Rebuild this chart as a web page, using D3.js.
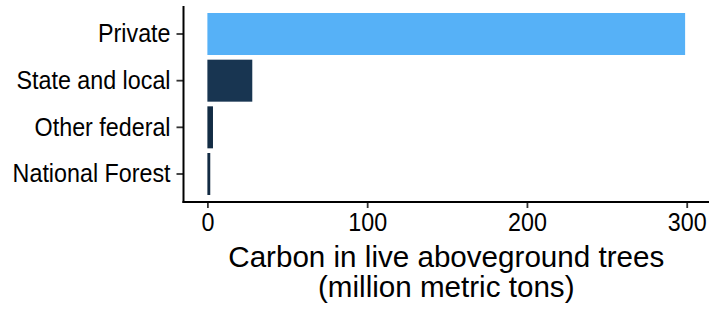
<!DOCTYPE html>
<html>
<head>
<meta charset="utf-8">
<script src="https://cdn.jsdelivr.net/npm/d3@7"></script>
<style>
  body { margin: 0; background: #fff; }
  text { font-family: "Liberation Sans", Arial, sans-serif; fill: #000; }
</style>
</head>
<body>
<script>
'use strict';

var categories = ["Private", "State and local", "Other federal", "National Forest"];
var carbon = [299, 28.1, 3.5, 1.8];
var xTicks = [0, 100, 200, 300];
var titleLines = ["Carbon in live aboveground trees", "(million metric tons)"];

var _width = 722;
var _height = 309;
var panel = {left: 183.5, right: 709, top: 6, bottom: 202};
var labelSize = 23.3;
var stretch = 1.08; // the reference text is a bit taller than wide

var data = categories.map(function(c, i) { return {name: c, value: carbon[i]}; });

var maxV = d3.max(carbon);
var pad = maxV * 0.05;

var _xScale = d3.scaleLinear()
    .domain([-pad, maxV + pad])
    .range([panel.left, panel.right]);

var _yScale = d3.scaleBand()
    .domain(categories)
    .range([panel.top, panel.bottom])
    .paddingInner(0.1)
    .paddingOuter(0.15);

var color = d3.scaleLinear()
    .domain(d3.extent(carbon))
    .range(["#132B43", "#56B1F7"])
    .interpolate(d3.interpolateLab);

var svg = d3.select(document.body)
    .append("svg")
    .attr("width", _width)
    .attr("height", _height)
    .attr("xmlns", "http://www.w3.org/2000/svg");

// bars
svg.append("g").attr("class", "bars")
  .selectAll("rect")
  .data(data)
  .enter()
  .append("rect")
    .attr("x", _xScale(0))
    .attr("y", function(d) { return _yScale(d.name); })
    .attr("width", function(d) { return _xScale(d.value) - _xScale(0); })
    .attr("height", _yScale.bandwidth())
    .attr("fill", function(d) { return color(d.value); });

// x axis
var xAxis = d3.axisBottom(_xScale)
    .tickValues(xTicks)
    .tickSize(6)
    .tickPadding(6)
    .tickFormat(d3.format("d"));

var gx = svg.append("g")
    .attr("transform", "translate(0," + panel.bottom + ")")
    .call(xAxis);
gx.select(".domain").remove();
gx.selectAll(".tick line").attr("stroke", "#333").attr("stroke-width", 1.8);
gx.selectAll(".tick text")
    .attr("font-size", labelSize)
    .attr("dy", null)
    .attr("y", 29.5 / stretch)
    .attr("transform", "scale(1," + stretch + ")")
    .attr("fill", "#000");

// y axis
var yAxis = d3.axisLeft(_yScale).tickSize(7).tickPadding(6);
var gy = svg.append("g")
    .attr("transform", "translate(" + panel.left + ",0)")
    .call(yAxis);
gy.select(".domain").remove();
gy.selectAll(".tick line").attr("stroke", "#333").attr("stroke-width", 1.8);
gy.selectAll(".tick text")
    .attr("font-size", labelSize)
    .attr("dy", "0.33em")
    .attr("transform", "scale(1," + stretch + ")")
    .attr("fill", "#000");

// axis lines
svg.append("line")
    .attr("x1", panel.left).attr("x2", panel.left)
    .attr("y1", panel.top).attr("y2", panel.bottom + 1)
    .attr("stroke", "#000").attr("stroke-width", 2);
svg.append("line")
    .attr("x1", panel.left - 1).attr("x2", panel.right)
    .attr("y1", panel.bottom).attr("y2", panel.bottom)
    .attr("stroke", "#000").attr("stroke-width", 2);

// axis title
svg.append("text")
    .attr("text-anchor", "middle")
    .attr("font-size", 29.6)
    .selectAll("tspan")
    .data(titleLines)
    .enter()
    .append("tspan")
      .attr("x", (panel.left + panel.right) / 2)
      .attr("y", function(d, i) { return 266.7 + i * 30; })
      .text(function(d) { return d; });
</script>
</body>
</html>
